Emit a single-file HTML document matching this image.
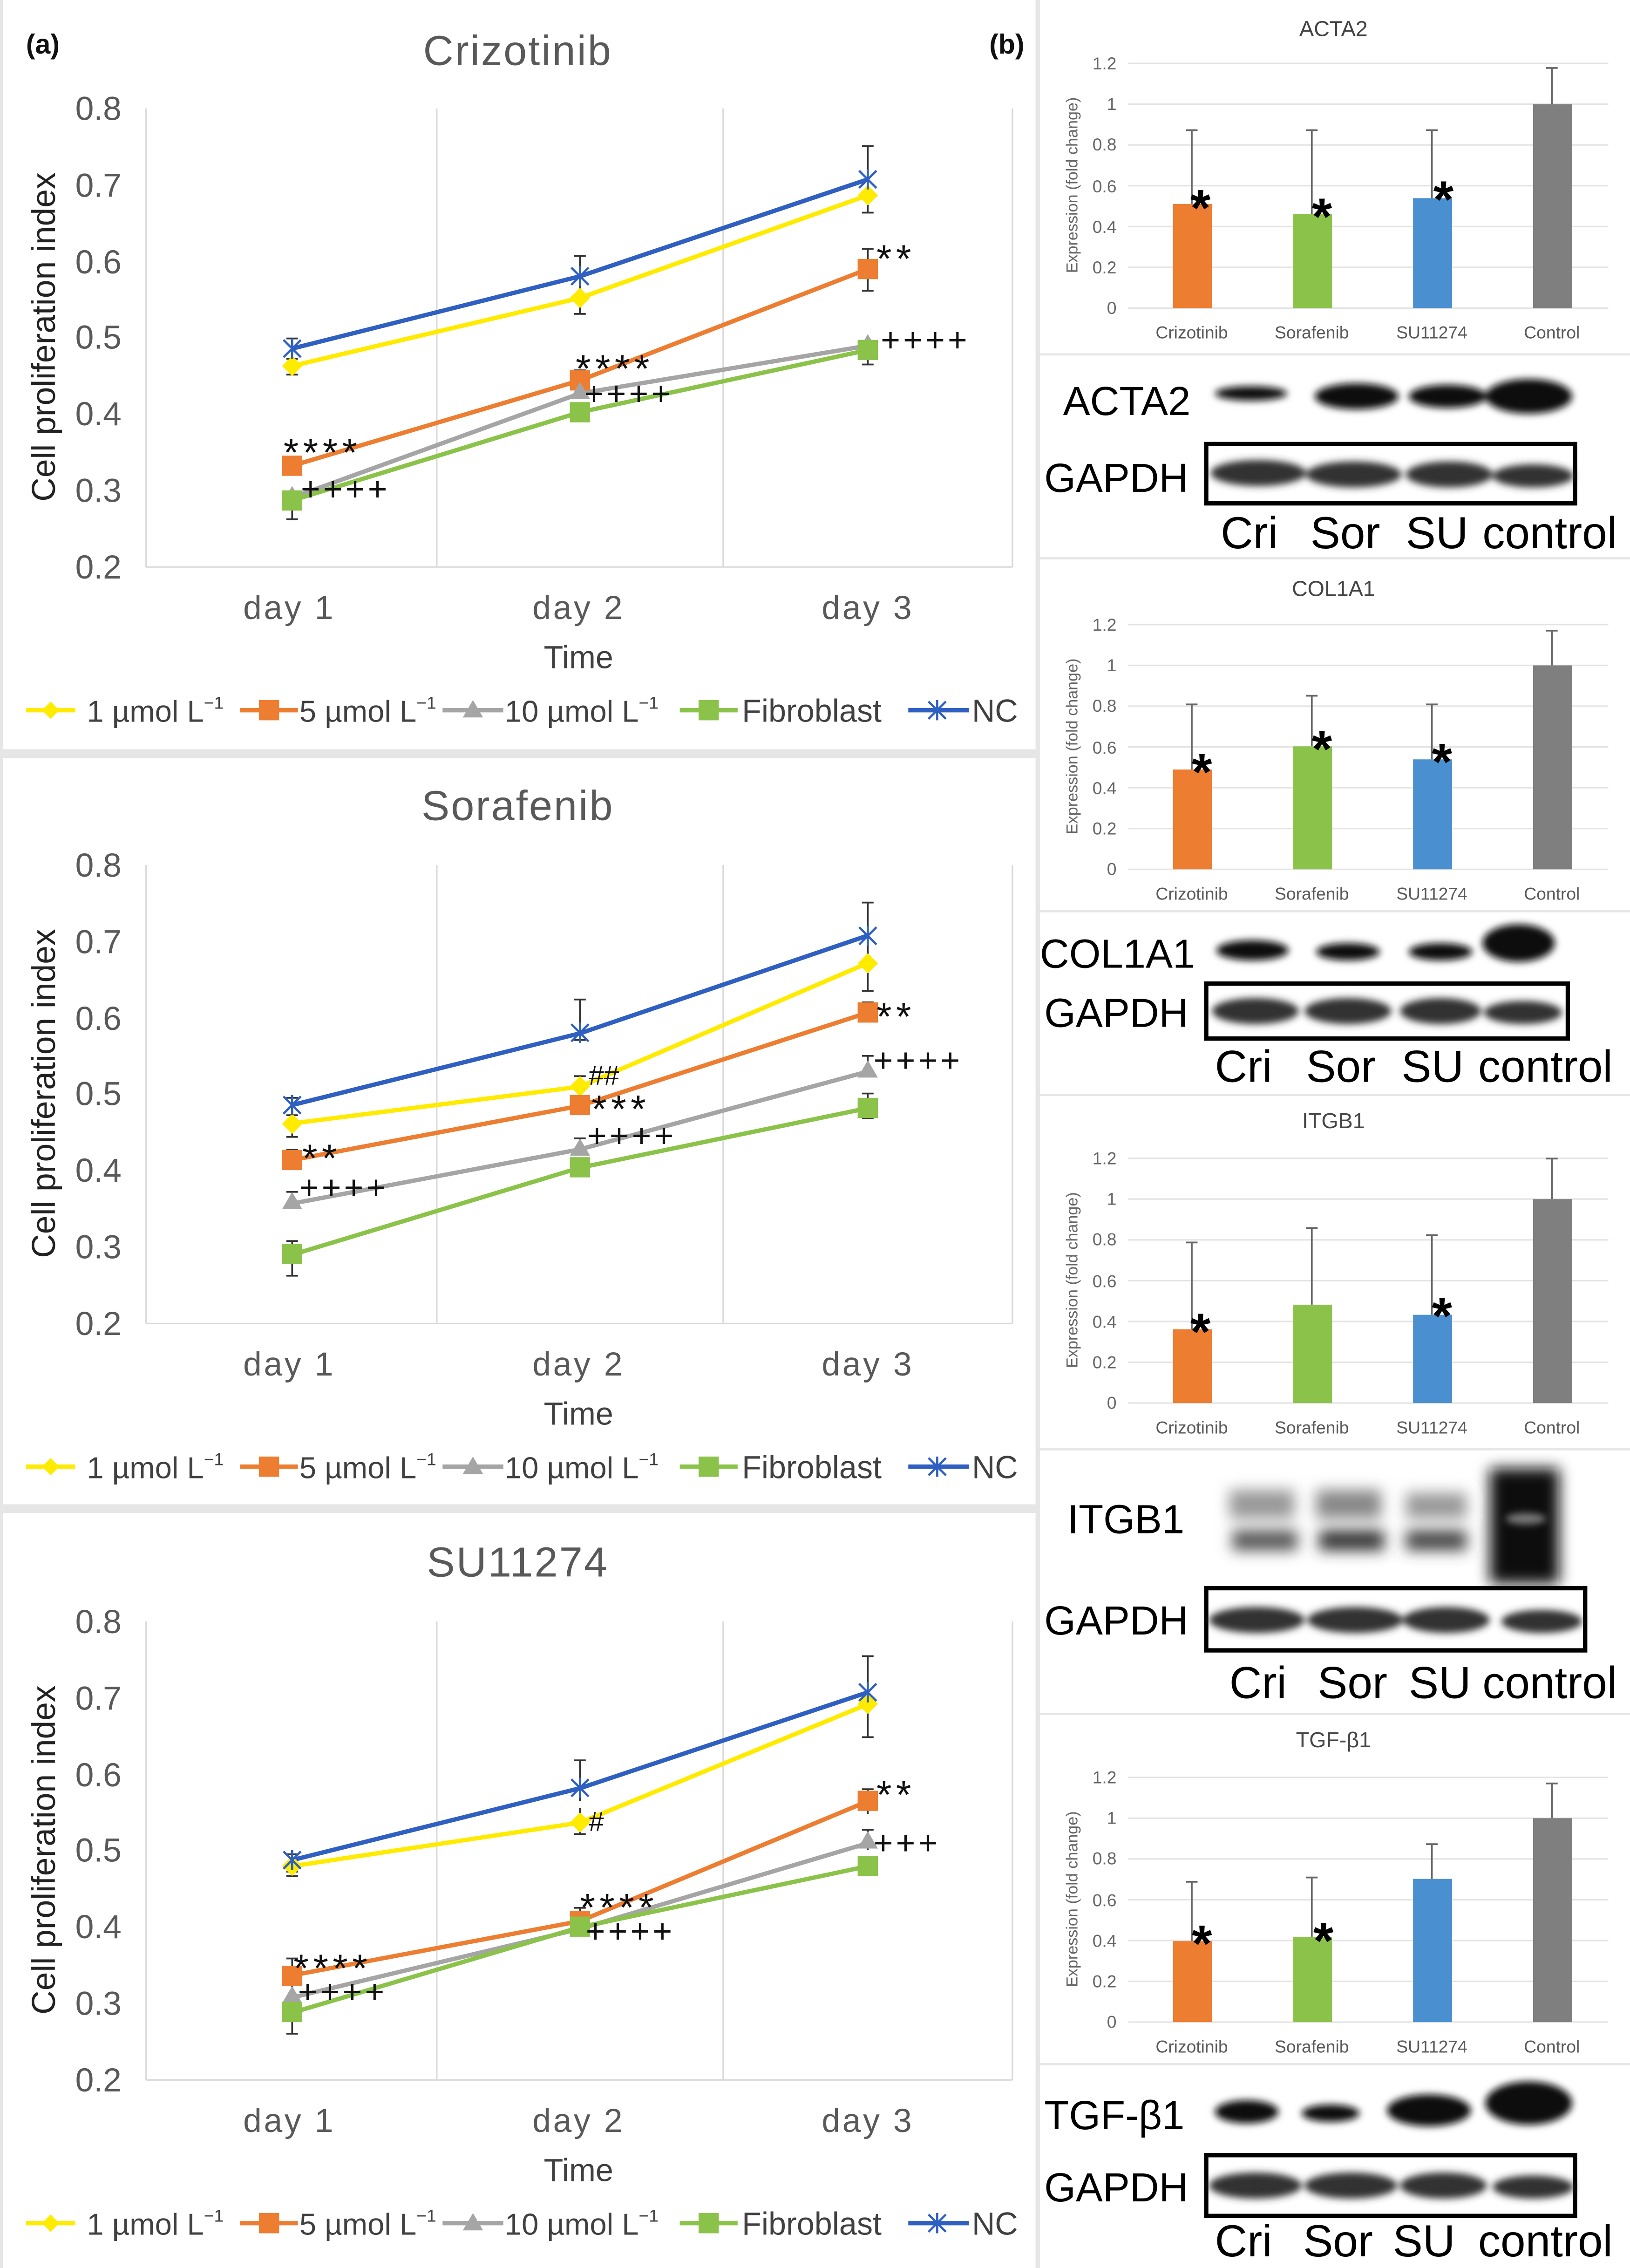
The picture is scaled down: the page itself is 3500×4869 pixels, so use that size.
<!DOCTYPE html>
<html><head><meta charset="utf-8"><style>
html,body{margin:0;padding:0;background:#fff}
svg{display:block}
text{font-family:"Liberation Sans",sans-serif}
.st{font-size:27px;letter-spacing:3px}
.pl{font-size:23px;letter-spacing:2px}
</style></head><body>
<svg width="3500" height="4869" viewBox="0 0 1127 1568" preserveAspectRatio="none" xmlns="http://www.w3.org/2000/svg">
<defs>
<filter id="b1" x="-30%" y="-100%" width="160%" height="300%"><feGaussianBlur stdDeviation="2.5"/></filter>
<filter id="b2" x="-30%" y="-100%" width="160%" height="300%"><feGaussianBlur stdDeviation="5"/></filter>
<g id="leg">
<line x1="18" y1="0" x2="52" y2="0" stroke="#FFEB00" stroke-width="3"/><path d="M35 -6 L41 0 L35 6 L29 0Z" fill="#FFEB00"/>
<text x="60" y="8" font-size="21" fill="#404040">1 µmol L<tspan font-size="12" dy="-9">−1</tspan></text>
<line x1="166" y1="0" x2="206" y2="0" stroke="#ED7D31" stroke-width="3"/><rect x="179" y="-7" width="14" height="14" fill="#ED7D31"/>
<text x="207" y="8" font-size="21" fill="#404040">5 µmol L<tspan font-size="12" dy="-9">−1</tspan></text>
<line x1="306" y1="0" x2="348" y2="0" stroke="#A5A5A5" stroke-width="3"/><path d="M327 -7 L334 5 L320 5Z" fill="#A5A5A5"/>
<text x="349" y="8" font-size="21" fill="#404040">10 µmol L<tspan font-size="12" dy="-9">−1</tspan></text>
<line x1="470" y1="0" x2="510" y2="0" stroke="#8BC34A" stroke-width="3"/><rect x="483" y="-7" width="14" height="14" fill="#8BC34A"/>
<text x="513" y="8" font-size="22" fill="#404040">Fibroblast</text>
<line x1="628" y1="0" x2="670" y2="0" stroke="#2E5FC1" stroke-width="3"/><path d="M642 -6 L654 6 M642 6 L654 -6 M648 -7 L648 7" stroke="#2E5FC1" stroke-width="1.5"/>
<text x="672" y="8" font-size="22" fill="#404040">NC</text>
</g>
<g id="axes">
<g stroke="#D9D9D9" stroke-width="1"><line x1="101" y1="75" x2="101" y2="392"/><line x1="302" y1="75" x2="302" y2="392"/><line x1="500" y1="75" x2="500" y2="392"/><line x1="700" y1="75" x2="700" y2="392"/><line x1="101" y1="392" x2="700" y2="392"/></g>
<g font-size="23" fill="#595959" text-anchor="end"><text x="84" y="83">0.8</text><text x="84" y="136">0.7</text><text x="84" y="189">0.6</text><text x="84" y="241">0.5</text><text x="84" y="294">0.4</text><text x="84" y="347">0.3</text><text x="84" y="400">0.2</text></g>
<text transform="translate(38 233) rotate(-90)" font-size="23" fill="#222" text-anchor="middle">Cell proliferation index</text>
<g font-size="23" fill="#595959" text-anchor="middle" letter-spacing="1.5"><text x="200" y="428">day 1</text><text x="400" y="428">day 2</text><text x="600" y="428">day 3</text></g>
<text x="400" y="462" font-size="22" fill="#404040" text-anchor="middle">Time</text>
<use href="#leg" y="491"/>
</g>
</defs>
<rect width="1127" height="1568" fill="#fff"/>
<rect x="0" y="518" width="716" height="6" fill="#E6E6E6"/>
<rect x="0" y="1040" width="716" height="6" fill="#E6E6E6"/>
<rect x="716" y="0" width="3" height="1568" fill="#E6E6E6"/>
<rect x="0" y="0" width="2" height="1568" fill="#E6E6E6"/>
<g stroke="#E6E6E6" stroke-width="1.5"><line x1="719" y1="386" x2="1127" y2="386"/><line x1="719" y1="757" x2="1127" y2="757"/><line x1="719" y1="1185" x2="1127" y2="1185"/><line x1="719" y1="245" x2="1127" y2="245"/><line x1="719" y1="630" x2="1127" y2="630"/><line x1="719" y1="1002" x2="1127" y2="1002"/><line x1="719" y1="1427" x2="1127" y2="1427"/></g>
<text x="18" y="37" font-size="19" font-weight="bold" fill="#111">(a)</text>
<text x="684" y="37" font-size="19" font-weight="bold" fill="#111">(b)</text>

<!-- Chart 1 -->
<text x="358" y="45" font-size="29" fill="#595959" text-anchor="middle" letter-spacing="1">Crizotinib</text>
<use href="#axes"/>
<g stroke="#333" stroke-width="1.2" fill="none">
<path d="M202 234v14M198 234h8M198 248h8 M401 177v30M397 177h8M397 207h8 M600 101v45M596 101h8 M600 130v17M596 147h8 M202 247v12M198 259h8 M401 200v17M397 217h8 M202 316v12M198 316h8 M401 256v12M397 256h8 M600 172v29M596 172h8M596 201h8 M202 337v22M198 359h8 M600 236v16M596 252h8"/>
</g>
<polyline points="202,253 401,206 600,135" fill="none" stroke="#FFEB00" stroke-width="3"/>
<polyline points="202,322 401,263 600,186" fill="none" stroke="#ED7D31" stroke-width="3"/>
<polyline points="202,344 401,272 600,239" fill="none" stroke="#A5A5A5" stroke-width="3"/>
<polyline points="202,346 401,285 600,242" fill="none" stroke="#8BC34A" stroke-width="3"/>
<polyline points="202,241 401,191 600,124" fill="none" stroke="#2E5FC1" stroke-width="3"/>
<g fill="#FFEB00"><path d="M202 246l7 7-7 7-7-7z"/><path d="M401 199l7 7-7 7-7-7z"/><path d="M600 128l7 7-7 7-7-7z"/></g>
<g fill="#ED7D31"><rect x="195" y="315" width="14" height="14"/><rect x="394" y="256" width="14" height="14"/><rect x="593" y="179" width="14" height="14"/></g>
<g fill="#A5A5A5"><path d="M202 336l7 12h-14z"/><path d="M401 264l7 12h-14z"/><path d="M600 231l7 12h-14z"/></g>
<g fill="#8BC34A"><rect x="195" y="339" width="14" height="14"/><rect x="394" y="278" width="14" height="14"/><rect x="593" y="235" width="14" height="14"/></g>
<g stroke="#2E5FC1" stroke-width="1.5"><path d="M196 235l12 12M196 247l12-12M202 234v14"/><path d="M395 185l12 12M395 197l12-12M401 184v14"/><path d="M594 118l12 12M594 130l12-12M600 117v14"/></g>
<g fill="#111"><text class="st" x="196" y="322">****</text><text class="pl" x="208" y="346">++++</text><text class="st" x="398" y="264">****</text><text class="pl" x="404" y="280">++++</text><text class="st" x="606" y="188">**</text><text class="pl" x="609" y="243">++++</text></g>

<!-- Chart 2 -->
<g transform="translate(0 523)">
<text x="358" y="44" font-size="29" fill="#595959" text-anchor="middle" letter-spacing="1">Sorafenib</text>
<use href="#axes"/>
<g stroke="#333" stroke-width="1.2" fill="none">
<path d="M202 236v12M198 236h8M198 248h8 M401 168v28M397 168h8M397 196h8 M600 101v45M596 101h8 M600 145v17M596 162h8 M202 246v17M198 263h8 M401 221v12M397 221h8 M202 272v10M198 272h8 M401 230v10M397 230h8 M600 170v12M596 170h8 M202 301v10M198 301h8 M401 264v10M397 264h8 M600 207v14M596 207h8 M202 335v24M198 335h8M198 359h8 M600 233v17M596 233h8M596 250h8"/>
</g>
<polyline points="202,253.7 401,228.3 600,142.8" fill="none" stroke="#FFEB00" stroke-width="3"/>
<polyline points="202,279 401,241.5 600,177.1" fill="none" stroke="#ED7D31" stroke-width="3"/>
<polyline points="202,309.1 401,271.6 600,217.8" fill="none" stroke="#A5A5A5" stroke-width="3"/>
<polyline points="202,344.5 401,284.3 600,243.1" fill="none" stroke="#8BC34A" stroke-width="3"/>
<polyline points="202,241 401,191.4 600,123.8" fill="none" stroke="#2E5FC1" stroke-width="3"/>
<g fill="#FFEB00"><path d="M202 247l7 7-7 7-7-7z"/><path d="M401 221l7 7-7 7-7-7z"/><path d="M600 136l7 7-7 7-7-7z"/></g>
<g fill="#ED7D31"><rect x="195" y="272" width="14" height="14"/><rect x="394" y="234" width="14" height="14"/><rect x="593" y="170" width="14" height="14"/></g>
<g fill="#A5A5A5"><path d="M202 301l7 12h-14z"/><path d="M401 264l7 12h-14z"/><path d="M600 210l7 12h-14z"/></g>
<g fill="#8BC34A"><rect x="195" y="337" width="14" height="14"/><rect x="394" y="277" width="14" height="14"/><rect x="593" y="236" width="14" height="14"/></g>
<g stroke="#2E5FC1" stroke-width="1.5"><path d="M196 235l12 12M196 247l12-12M202 234v14"/><path d="M395 185l12 12M395 197l12-12M401 184v14"/><path d="M594 118l12 12M594 130l12-12M600 117v14"/></g>
<g fill="#111"><text class="st" x="209" y="287">**</text><text class="pl" x="207" y="306" font-size="19">++++</text><text x="407" y="227" font-size="19">##</text><text class="st" x="409" y="253">***</text><text class="pl" x="406" y="270" font-size="19">++++</text><text class="st" x="606" y="189">**</text><text class="pl" x="604" y="218" font-size="19">++++</text></g>
</g>

<!-- Chart 3 -->
<g transform="translate(0 1046)">
<text x="358" y="44" font-size="29" fill="#595959" text-anchor="middle" letter-spacing="1">SU11274</text>
<use href="#axes"/>
<g stroke="#333" stroke-width="1.2" fill="none">
<path d="M202 236v12M198 236h8M198 248h8 M401 171v28M397 171h8 M401 204v18M397 222h8 M600 99v45M596 99h8 M600 125v30M596 155h8 M202 241v10M198 251h8 M202 308v12M198 308h8 M401 273v12M397 273h8 M600 191v17M596 191h8 M202 325v12M198 325h8 M600 219v14M596 219h8 M202 338v22M198 360h8"/>
</g>
<polyline points="202,244.2 401,214.1 600,132.2" fill="none" stroke="#FFEB00" stroke-width="3"/>
<polyline points="202,319.7 401,282.2 600,199.3" fill="none" stroke="#ED7D31" stroke-width="3"/>
<polyline points="202,335 401,287.5 600,228.3" fill="none" stroke="#A5A5A5" stroke-width="3"/>
<polyline points="202,345.5 401,286.4 600,244.2" fill="none" stroke="#8BC34A" stroke-width="3"/>
<polyline points="202,240 401,190.3 600,124" fill="none" stroke="#2E5FC1" stroke-width="3"/>
<g fill="#FFEB00"><path d="M202 237l7 7-7 7-7-7z"/><path d="M401 207l7 7-7 7-7-7z"/><path d="M600 125l7 7-7 7-7-7z"/></g>
<g fill="#ED7D31"><rect x="195" y="313" width="14" height="14"/><rect x="394" y="275" width="14" height="14"/><rect x="593" y="192" width="14" height="14"/></g>
<g fill="#A5A5A5"><path d="M202 327l7 12h-14z"/><path d="M401 280l7 12h-14z"/><path d="M600 220l7 12h-14z"/></g>
<g fill="#8BC34A"><rect x="195" y="338" width="14" height="14"/><rect x="394" y="279" width="14" height="14"/><rect x="593" y="237" width="14" height="14"/></g>
<g stroke="#2E5FC1" stroke-width="1.5"><path d="M196 234l12 12M196 246l12-12M202 233v14"/><path d="M395 184l12 12M395 196l12-12M401 183v14"/><path d="M594 118l12 12M594 130l12-12M600 117v14"/></g>
<g fill="#111"><text class="st" x="203" y="324">****</text><text class="pl" x="206" y="339" font-size="19">++++</text><text x="407" y="220" font-size="19">#</text><text class="st" x="401" y="282">****</text><text class="pl" x="405" y="297" font-size="19">++++</text><text class="st" x="606" y="204">**</text><text class="pl" x="604" y="236" font-size="19">+++</text></g>
</g>

<!-- Bar charts -->
<defs>
<g id="bax">
<g stroke="#E3E3E3" stroke-width="1"><line x1="780" y1="0" x2="1112" y2="0"/><line x1="780" y1="-28.2" x2="1112" y2="-28.2"/><line x1="780" y1="-56.4" x2="1112" y2="-56.4"/><line x1="780" y1="-84.6" x2="1112" y2="-84.6"/><line x1="780" y1="-112.8" x2="1112" y2="-112.8"/><line x1="780" y1="-141" x2="1112" y2="-141"/><line x1="780" y1="-169.2" x2="1112" y2="-169.2"/></g>
<g font-size="12" fill="#666" text-anchor="end"><text x="772" y="4">0</text><text x="772" y="-24">0.2</text><text x="772" y="-52">0.4</text><text x="772" y="-80">0.6</text><text x="772" y="-109">0.8</text><text x="772" y="-137">1</text><text x="772" y="-165">1.2</text></g>
<text transform="translate(745 -85) rotate(-90)" font-size="11" fill="#666" text-anchor="middle">Expression (fold change)</text>
<g font-size="12" fill="#595959" text-anchor="middle"><text x="824" y="21">Crizotinib</text><text x="907" y="21">Sorafenib</text><text x="990" y="21">SU11274</text><text x="1073" y="21">Control</text></g>
</g>
</defs>
<g font-size="15" fill="#444" text-anchor="middle"><text x="922" y="25">ACTA2</text><text x="922" y="412">COL1A1</text><text x="922" y="780">ITGB1</text><text x="922" y="1208">TGF-β1</text></g>
<use href="#bax" y="213"/><use href="#bax" y="601"/><use href="#bax" y="970"/><use href="#bax" y="1398"/>
<g stroke="#666" stroke-width="1.2"><path d="M824 141V90M820 90h8M907 148V90M903 90h8M990 137V90M986 90h8M1073 72V47M1069 47h8"/></g>
<rect x="811" y="141" width="27" height="72" fill="#ED7D31"/><rect x="894" y="148" width="27" height="65" fill="#8BC34A"/><rect x="977" y="137" width="27" height="76" fill="#4A90D0"/><rect x="1060" y="72" width="27" height="141" fill="#7F7F7F"/>
<g stroke="#666" stroke-width="1.2"><path d="M824 532V487M820 487h8M907 516V481M903 481h8M990 525V487M986 487h8M1073 460V436M1069 436h8"/></g>
<rect x="811" y="532" width="27" height="69" fill="#ED7D31"/><rect x="894" y="516" width="27" height="85" fill="#8BC34A"/><rect x="977" y="525" width="27" height="76" fill="#4A90D0"/><rect x="1060" y="460" width="27" height="141" fill="#7F7F7F"/>
<g stroke="#666" stroke-width="1.2"><path d="M824 919V859M820 859h8M907 902V849M903 849h8M990 909V854M986 854h8M1073 829V801M1069 801h8"/></g>
<rect x="811" y="919" width="27" height="51" fill="#ED7D31"/><rect x="894" y="902" width="27" height="68" fill="#8BC34A"/><rect x="977" y="909" width="27" height="61" fill="#4A90D0"/><rect x="1060" y="829" width="27" height="141" fill="#7F7F7F"/>
<g stroke="#666" stroke-width="1.2"><path d="M824 1342V1301M820 1301h8M907 1339V1298M903 1298h8M990 1299V1275M986 1275h8M1073 1257V1233M1069 1233h8"/></g>
<rect x="811" y="1342" width="27" height="56" fill="#ED7D31"/><rect x="894" y="1339" width="27" height="59" fill="#8BC34A"/><rect x="977" y="1299" width="27" height="99" fill="#4A90D0"/><rect x="1060" y="1257" width="27" height="141" fill="#7F7F7F"/>
<g font-size="36" font-weight="bold" fill="#000"><text x="823" y="156">*</text><text x="907" y="162">*</text><text x="991" y="150">*</text><text x="824" y="546">*</text><text x="907" y="530">*</text><text x="990" y="539">*</text><text x="823" y="933">*</text><text x="990" y="922">*</text><text x="824" y="1356">*</text><text x="908" y="1354">*</text></g>

<!-- Blots -->
<g font-size="28" fill="#000">
<text x="735" y="287">ACTA2</text><text x="722" y="340">GAPDH</text>
<text x="719" y="669">COL1A1</text><text x="722" y="710">GAPDH</text>
<text x="738" y="1060">ITGB1</text><text x="722" y="1130">GAPDH</text>
<text x="722" y="1472">TGF-β1</text><text x="722" y="1522">GAPDH</text>
</g>
<g font-size="31" fill="#000">
<text x="844" y="379">Cri</text><text x="906" y="379">Sor</text><text x="972" y="379">SU</text><text x="1025" y="379">control</text>
<text x="840" y="748">Cri</text><text x="903" y="748">Sor</text><text x="969" y="748">SU</text><text x="1022" y="748">control</text>
<text x="850" y="1174">Cri</text><text x="911" y="1174">Sor</text><text x="974" y="1174">SU</text><text x="1025" y="1174">control</text>
<text x="840" y="1560">Cri</text><text x="901" y="1560">Sor</text><text x="963" y="1560">SU</text><text x="1022" y="1560">control</text>
</g>
<g fill="#111" filter="url(#b1)"><ellipse cx="865" cy="272" rx="25" ry="5"/><ellipse cx="938" cy="274" rx="29" ry="9"/><ellipse cx="1001" cy="274" rx="27" ry="8"/><ellipse cx="1057" cy="274" rx="30" ry="12"/></g>
<rect x="834" y="307" width="255" height="41" fill="#fff" stroke="#000" stroke-width="3"/>
<g fill="#333" filter="url(#b1)"><ellipse cx="870" cy="327" rx="33" ry="9"/><ellipse cx="936" cy="328" rx="33" ry="9"/><ellipse cx="1002" cy="328" rx="30" ry="9"/><ellipse cx="1060" cy="329" rx="28" ry="8"/></g>
<g fill="#111" filter="url(#b1)"><ellipse cx="866" cy="657" rx="25" ry="7"/><ellipse cx="932" cy="658" rx="22" ry="6"/><ellipse cx="996" cy="658" rx="22" ry="6"/><ellipse cx="1050" cy="652" rx="25" ry="13"/></g>
<rect x="834" y="680" width="250" height="38" fill="#fff" stroke="#000" stroke-width="3"/>
<g fill="#333" filter="url(#b1)"><ellipse cx="868" cy="699" rx="30" ry="9"/><ellipse cx="932" cy="699" rx="30" ry="9"/><ellipse cx="996" cy="699" rx="28" ry="9"/><ellipse cx="1053" cy="700" rx="27" ry="8"/></g>
<g filter="url(#b2)"><rect x="850" y="1030" width="45" height="20" fill="#999"/><rect x="910" y="1030" width="45" height="20" fill="#888"/><rect x="972" y="1032" width="42" height="18" fill="#999"/><rect x="852" y="1058" width="45" height="14" fill="#555"/><rect x="912" y="1058" width="45" height="14" fill="#333"/><rect x="972" y="1058" width="42" height="14" fill="#444"/><rect x="1030" y="1015" width="48" height="80" fill="#111"/></g>
<ellipse cx="1055" cy="1050" rx="14" ry="4" fill="#777" filter="url(#b1)"/>
<rect x="834" y="1098" width="262" height="43" fill="#fff" stroke="#000" stroke-width="3"/>
<g fill="#333" filter="url(#b1)"><ellipse cx="869" cy="1120" rx="33" ry="9"/><ellipse cx="937" cy="1120" rx="33" ry="9"/><ellipse cx="1000" cy="1120" rx="30" ry="9"/><ellipse cx="1066" cy="1121" rx="28" ry="8"/></g>
<g fill="#111" filter="url(#b1)"><ellipse cx="862" cy="1460" rx="22" ry="8"/><ellipse cx="920" cy="1461" rx="20" ry="6"/><ellipse cx="988" cy="1459" rx="29" ry="11"/><ellipse cx="1057" cy="1454" rx="30" ry="15"/></g>
<rect x="834" y="1490" width="255" height="42" fill="#fff" stroke="#000" stroke-width="3"/>
<g fill="#333" filter="url(#b1)"><ellipse cx="868" cy="1511" rx="32" ry="9"/><ellipse cx="934" cy="1511" rx="32" ry="9"/><ellipse cx="998" cy="1511" rx="30" ry="9"/><ellipse cx="1060" cy="1512" rx="28" ry="8"/></g>
</svg>
</body></html>
